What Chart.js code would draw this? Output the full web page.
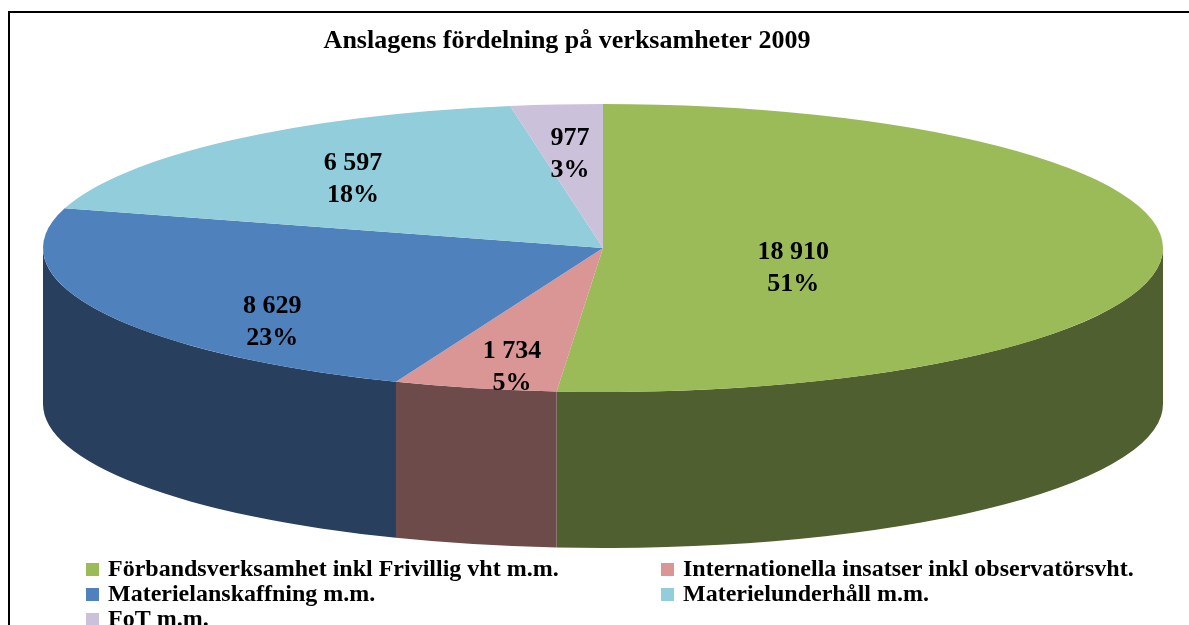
<!DOCTYPE html>
<html>
<head>
<meta charset="utf-8">
<style>
  body { margin: 0; background: #fff; }
  canvas { display: block; }
</style>
</head>
<body>
<canvas id="anslag" width="1189" height="625"></canvas>
<script src="https://cdn.jsdelivr.net/npm/chart.js@4/dist/chart.umd.min.js"></script>
<script>
// Data (Mkr), ordning medurs från kl 12
const titel = 'Anslagens fördelning på verksamheter 2009';
const kategorier = [
    'Förbandsverksamhet inkl Frivillig vht m.m.',
    'Internationella insatser inkl observatörsvht.',
    'Materielanskaffning m.m.',
    'Materielunderhåll m.m.',
    'FoT m.m.'
];
const belopp = [18910, 1734, 8629, 6597, 977];

// Färger: ovansida och sida
const fargerTopp = ['#9BBB59', '#D99694', '#4F81BD', '#92CDDC', '#CCC1DA'];
const fargerSida = ['#4F5F2F', '#6D4B4B', '#283F5E', '#4A6C75', '#6A6278'];

// Etikettplacering: andel av radien längs mittvinkeln + lodrät justering (px)
const etikettRadie = [0.34, 0.71, 0.658, 0.67, 0.71];
const etikettLyft = [17, 19, 32, 2, 7];

const FONT = '"Liberation Serif", "Times New Roman", serif';
const DJUP = 156;

function formatBelopp(v) {
    return String(v).replace(/\B(?=(\d{3})+(?!\d))/g, ' ');
}

// 3D-effekt: sträck cirkeln till ellips och rita sidorna först
const pie3d = {
    id: 'pie3d',
    beforeDatasetsDraw(chart) {
        const ctx = chart.ctx;
        const area = chart.chartArea;
        const meta = chart.getDatasetMeta(0);
        if (!meta.data.length) return;
        const cx = meta.data[0].x;
        const cy = meta.data[0].y;
        const sx = area.width / area.height;

        ctx.save();
        ctx.translate(cx, cy);
        ctx.scale(sx, 1);
        ctx.translate(-cx, -cy);

        meta.data.forEach((arc, i) => {
            const R = arc.outerRadius;
            let a0 = Math.max(arc.startAngle, 0);
            let a1 = Math.min(arc.endAngle, Math.PI);
            if (a1 <= a0) return;
            ctx.beginPath();
            ctx.arc(cx, cy, R, a0, a1);
            ctx.lineTo(cx + R * Math.cos(a1), cy + R * Math.sin(a1) + DJUP);
            ctx.arc(cx, cy + DJUP, R, a1, a0, true);
            ctx.closePath();
            ctx.fillStyle = fargerSida[i];
            ctx.fill();
        });
    },
    afterDatasetsDraw(chart) {
        const ctx = chart.ctx;
        ctx.restore();

        const area = chart.chartArea;
        const meta = chart.getDatasetMeta(0);
        const sx = area.width / area.height;
        const total = belopp.reduce((a, b) => a + b, 0);

        ctx.save();
        ctx.fillStyle = '#000';
        ctx.font = 'bold 26px ' + FONT;
        ctx.textAlign = 'center';
        ctx.textBaseline = 'middle';
        meta.data.forEach((arc, i) => {
            const mid = (arc.startAngle + arc.endAngle) / 2;
            const f = etikettRadie[i];
            const x = arc.x + sx * arc.outerRadius * f * Math.cos(mid);
            const y = arc.y + arc.outerRadius * f * Math.sin(mid) + etikettLyft[i];
            ctx.fillText(formatBelopp(belopp[i]), x, y - 15);
            ctx.fillText(Math.round(belopp[i] / total * 100) + '%', x, y + 17);
        });
        ctx.restore();
    },
    afterDraw(chart) {
        const ctx = chart.ctx;
        ctx.save();

        // ram
        ctx.strokeStyle = '#000';
        ctx.lineWidth = 2;
        ctx.strokeRect(9, 12, 1300, 800);

        // rubrik
        ctx.fillStyle = '#000';
        ctx.font = 'bold 26px ' + FONT;
        ctx.textAlign = 'center';
        ctx.textBaseline = 'alphabetic';
        ctx.fillText(titel, 567, 48);

        // förklaring i två kolumner
        const kolX = [86, 661];
        const radY = [569, 594, 619];
        ctx.font = 'bold 24px ' + FONT;
        ctx.textAlign = 'left';
        ctx.textBaseline = 'middle';
        kategorier.forEach((namn, i) => {
            const x = kolX[i % 2];
            const y = radY[Math.floor(i / 2)];
            ctx.fillStyle = fargerTopp[i];
            ctx.fillRect(x, y - 6, 13, 13);
            ctx.fillStyle = '#000';
            ctx.fillText(namn, x + 22, y + 1);
        });
        ctx.restore();
    }
};

new Chart(document.getElementById('anslag').getContext('2d'), {
    type: 'pie',
    data: {
        labels: kategorier,
        datasets: [{
            data: belopp,
            backgroundColor: fargerTopp,
            borderWidth: 0,
            clip: false
        }]
    },
    options: {
        responsive: false,
        animation: false,
        layout: {
            padding: { left: 43, right: 26, top: 104, bottom: 233 }
        },
        plugins: {
            legend: { display: false },
            title: { display: false },
            tooltip: { enabled: false }
        }
    },
    plugins: [pie3d]
});
</script>
</body>
</html>
